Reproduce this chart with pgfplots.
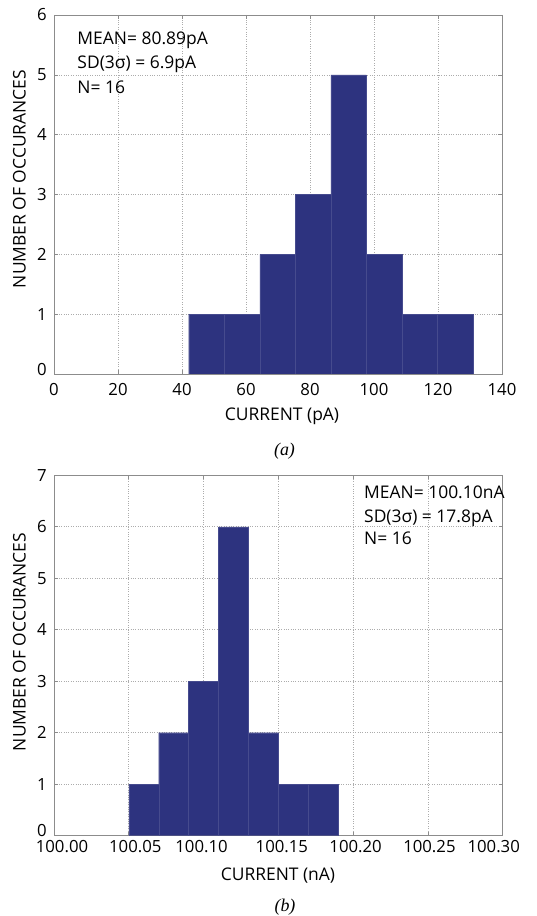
\documentclass[border=0pt]{standalone}
\usepackage{pgfplots}
\pgfplotsset{compat=1.18}
\usepackage{fontspec}
\setmainfont{Open Sans}
\newfontfamily\capfont{Liberation Serif}
\definecolor{navy}{RGB}{45,51,127}
\definecolor{frame}{RGB}{140,140,140}
\newcommand{\sh}[2]{\makebox[0pt][c]{\hspace*{#1}#2}}
\newcommand{\up}[2]{\smash{\raisebox{#1}{#2}}}
\begin{document}
\fontsize{17.5}{21}\selectfont
\begin{tikzpicture}[x=1bp,y=1bp]
\useasboundingbox (0,0) rectangle (537,916);
\pgfplotsset{
  hist/.style={
    scale only axis,
    anchor=south west,
    axis line style={frame, line width=0.8bp},
    tick style={frame, line width=0.6bp},
    major tick length=4bp,
    tick align=inside,
    xtick pos=both, ytick pos=both,
    grid=major,
    major grid style={dotted, gray!65, line width=0.6bp},
    /pgf/number format/assume math mode=true,
    yticklabel style={anchor=east, inner sep=0pt, xshift=-7bp},
    tick label style={font=\fontsize{16.8}{20}\selectfont},
  }
}
% ---------- (a) ----------
\begin{axis}[hist,
  at={(54bp,542bp)}, width=448bp, height=359bp,
  xmin=0, xmax=140, ymin=0, ymax=6,
  xtick={0,20,...,140}, ytick={0,1,...,6},
  yticklabels={\up{-2bp}{0},1,2,3,4,5,6},
  xticklabel style={anchor=north, inner sep=0pt, yshift=-8.7bp},
]
\addplot[ybar interval, fill=navy, draw=navy!88!white, line width=0.3bp]
  coordinates {(42.1,1) (53.2,1) (64.3,2) (75.4,3) (86.5,5) (97.6,2) (108.7,1) (119.8,1) (130.9,1)};
\end{axis}
% ---------- (b) ----------
\begin{axis}[hist,
  at={(54bp,80.3bp)}, width=448.7bp, height=360.4bp,
  xmin=100, xmax=100.3, ymin=0, ymax=7,
  xtick={100,100.05,100.1,100.15,100.2,100.25,100.3},
  xticklabels={\sh{16bp}{100.00},\sh{13bp}{100.05},\sh{-4bp}{100.10},\sh{7bp}{100.15},\sh{5bp}{100.20},\sh{3bp}{100.25},\sh{-18bp}{100.30}},
  ytick={0,1,...,7},
  yticklabels={\up{-0.5bp}{0},1,2,3,4,5,6,7},
  xticklabel style={anchor=north, inner sep=0pt, yshift=-4.8bp},
]
\addplot[ybar interval, fill=navy, draw=navy!88!white, line width=0.3bp]
  coordinates {(100.05,1) (100.07,2) (100.09,3) (100.11,6) (100.13,2) (100.15,1) (100.17,1) (100.19,1)};
\end{axis}
% ---------- labels ----------
\node[rotate=90, anchor=south, inner sep=0pt] at (26,737) {NUMBER OF OCCURANCES};
\node[rotate=90, anchor=south, inner sep=0pt] at (26,274) {NUMBER OF OCCURANCES};
\node[anchor=base, inner sep=0pt] at (282,495.3) {CURRENT (pA)};
\node[anchor=base, inner sep=0pt] at (278,35.3) {CURRENT (nA)};
% annotations
\node[anchor=base west, inner sep=0pt] at (77.3,871.7) {MEAN= 80.89pA};
\node[anchor=base west, inner sep=0pt] at (77.3,847.7) {SD(3σ) = 6.9pA};
\node[anchor=base west, inner sep=0pt] at (77.3,822.7) {N= 16};
\node[anchor=base west, inner sep=0pt] at (364,417) {MEAN= 100.10nA};
\node[anchor=base west, inner sep=0pt] at (364,393.7) {SD(3σ) = 17.8pA};
\node[anchor=base west, inner sep=0pt] at (364,371) {N= 16};
% captions
\node[anchor=base, inner sep=0pt] at (284.5,460) {\fontsize{18}{20}\selectfont\capfont\itshape (a)};
\node[anchor=base, inner sep=0pt] at (285,4) {\fontsize{18}{20}\selectfont\capfont\itshape (b)};
\end{tikzpicture}
\end{document}
